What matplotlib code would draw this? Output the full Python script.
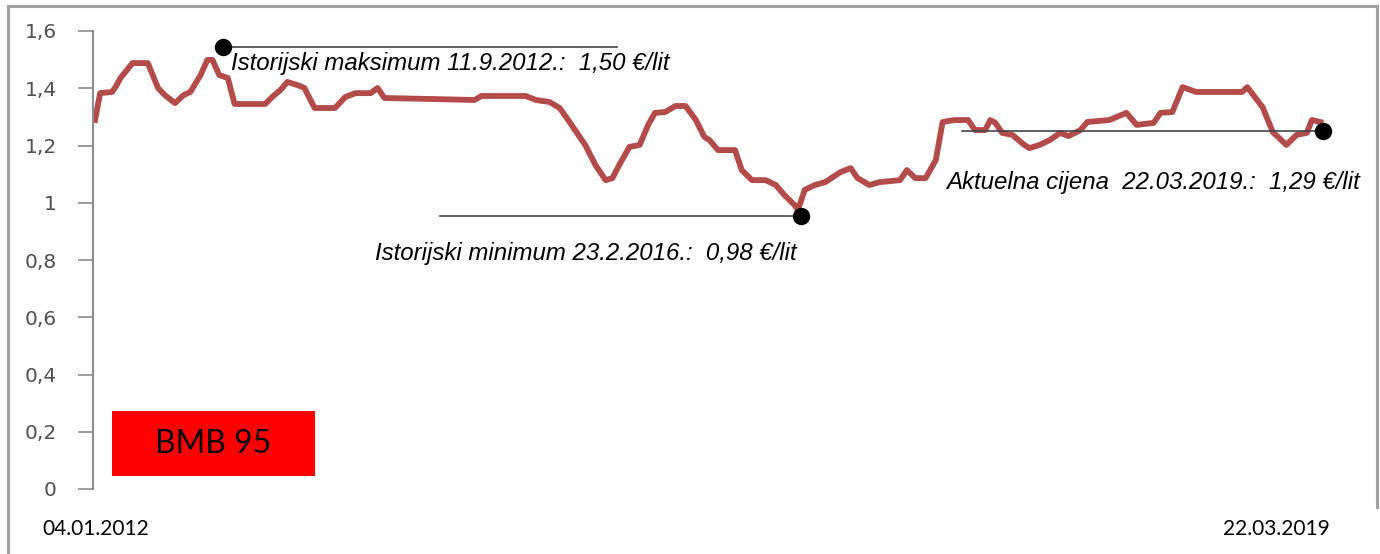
import matplotlib
matplotlib.use('Agg')
import matplotlib.pyplot as plt
from matplotlib.lines import Line2D
from matplotlib.patches import Rectangle

# time in decimal years, price in EUR/lit
t = [2012.01, 2012.04, 2012.11, 2012.13, 2012.16, 2012.23, 2012.32, 2012.38, 2012.42, 2012.48,
     2012.53, 2012.57, 2012.63, 2012.67, 2012.70, 2012.74, 2012.79, 2012.83, 2013.01, 2013.05,
     2013.10, 2013.14, 2013.20, 2013.24, 2013.30, 2013.42, 2013.48, 2013.54, 2013.63, 2013.67,
     2013.71, 2014.24, 2014.28, 2014.54, 2014.60, 2014.68, 2014.74, 2014.79, 2014.83, 2014.89,
     2014.95, 2015.01, 2015.05, 2015.09, 2015.15, 2015.21, 2015.26, 2015.30, 2015.36, 2015.42,
     2015.48, 2015.54, 2015.59, 2015.62, 2015.67, 2015.77, 2015.81, 2015.87, 2015.95, 2016.01,
     2016.06, 2016.12, 2016.14, 2016.18, 2016.24, 2016.30, 2016.39, 2016.45, 2016.49, 2016.56,
     2016.62, 2016.74, 2016.78, 2016.83, 2016.89, 2016.95, 2016.99, 2017.06, 2017.14, 2017.18,
     2017.24, 2017.27, 2017.30, 2017.34, 2017.40, 2017.47, 2017.50, 2017.56, 2017.62, 2017.68,
     2017.73, 2017.80, 2017.84, 2017.97, 2018.07, 2018.13, 2018.23, 2018.27, 2018.34, 2018.40,
     2018.48, 2018.75, 2018.78, 2018.87, 2018.93, 2019.01, 2019.07, 2019.13, 2019.16, 2019.21]
price = [1.289, 1.383, 1.387, 1.404, 1.436, 1.488, 1.488, 1.401, 1.376, 1.348,
         1.376, 1.387, 1.446, 1.499, 1.499, 1.446, 1.436, 1.345, 1.345, 1.369,
         1.394, 1.422, 1.411, 1.401, 1.331, 1.331, 1.369, 1.383, 1.383, 1.401,
         1.366, 1.359, 1.373, 1.373, 1.359, 1.352, 1.331, 1.289, 1.254, 1.202,
         1.132, 1.079, 1.086, 1.132, 1.195, 1.202, 1.272, 1.314, 1.317, 1.338,
         1.338, 1.289, 1.230, 1.219, 1.184, 1.184, 1.114, 1.079, 1.079, 1.062,
         1.027, 0.992, 0.975, 1.045, 1.062, 1.072, 1.107, 1.121, 1.086, 1.062,
         1.072, 1.079, 1.114, 1.086, 1.086, 1.149, 1.282, 1.289, 1.289, 1.254,
         1.254, 1.289, 1.279, 1.244, 1.237, 1.202, 1.191, 1.202, 1.219, 1.244,
         1.233, 1.254, 1.282, 1.289, 1.314, 1.272, 1.279, 1.314, 1.317, 1.404,
         1.387, 1.387, 1.404, 1.334, 1.247, 1.202, 1.237, 1.244, 1.289, 1.282]

yticks = [0, 0.2, 0.4, 0.6, 0.8, 1.0, 1.2, 1.4, 1.6]
ytick_labels = ['0', '0,2', '0,4', '0,6', '0,8', '1', '1,2', '1,4', '1,6']

# marked points: (t, value), annotation text
max_pt = (2012.762, 1.544)
min_pt = (2016.158, 0.954)
cur_pt = (2019.225, 1.251)
max_txt = 'Istorijski maksimum 11.9.2012.:  1,50 €/lit'
min_txt = 'Istorijski minimum 23.2.2016.:  0,98 €/lit'
cur_txt = 'Aktuelna cijena  22.03.2019.:  1,29 €/lit'

W, H = 1380, 554
fig = plt.figure(figsize=(W / 100, H / 100), dpi=100)
ax = fig.add_axes([93 / W, 1 - 489 / H, (1340 - 93) / W, (489 - 31) / H])

ax.plot(t, price, color='#b24b4a', lw=4.2, solid_joinstyle='round')

ax.set_xlim(2011.998, 2019.325)
ax.set_ylim(0, 1.6)
ax.set_yticks(yticks)
ax.set_yticklabels(ytick_labels)
ax.set_xticks([])
for s in ['top', 'right', 'bottom']:
    ax.spines[s].set_visible(False)
ax.spines['left'].set_color('#8c8c8c')
ax.spines['left'].set_linewidth(1.5)
ax.tick_params(axis='y', direction='out', length=11, width=1.2, color='#8c8c8c',
               labelsize=14.5, labelcolor='#505050', pad=15)
ax.patch.set_alpha(0)

# annotation guides
ax.plot([max_pt[0], 2015.077], [max_pt[1], max_pt[1]], color='#444444', lw=1.2, clip_on=False)
ax.plot([2014.037, min_pt[0]], [min_pt[1], min_pt[1]], color='#444444', lw=1.2, clip_on=False)
ax.plot([2017.104, cur_pt[0]], [cur_pt[1], cur_pt[1]], color='#444444', lw=1.2, clip_on=False)
for p in [max_pt, min_pt, cur_pt]:
    ax.plot(p[0], p[1], 'o', color='black', ms=11.5, clip_on=False, zorder=5)

tfont = dict(family='Liberation Sans', style='italic', fontsize=17.3, color='black', va='center')
ax.text(2012.81, 1.488, max_txt, **tfont)
ax.text(2013.655, 0.824, min_txt, **tfont)
ax.text(2017.01, 1.072, cur_txt, **tfont)

# BMB 95 badge
fig.patches.append(Rectangle((112 / W, 1 - 476 / H), (315 - 112) / W, (476 - 411) / H,
                             transform=fig.transFigure, facecolor='#ff0000', edgecolor='none'))
fig.text((112 + 315) / 2 / W, 1 - 444 / H, 'BMB 95', family='Lato', fontsize=23,
         ha='center', va='center', color='black')

fig.text(42 / W, 1 - 529 / H, '04.01.2012', family='Lato', fontsize=15, va='center')
fig.text(1223 / W, 1 - 529 / H, '22.03.2019', family='Lato', fontsize=15, va='center')

# frame
bc = '#a0a0a0'
fig.lines.append(Line2D([8 / W, 1377 / W], [1 - 6 / H, 1 - 6 / H], transform=fig.transFigure, color=bc, lw=2.2))
fig.lines.append(Line2D([8 / W, 8 / W], [0, 1 - 6 / H], transform=fig.transFigure, color=bc, lw=2.2))
fig.lines.append(Line2D([1377 / W, 1377 / W], [1 - 507 / H, 1 - 6 / H], transform=fig.transFigure, color=bc, lw=2.2))

fig.savefig('out.png', dpi=100, facecolor='white')
